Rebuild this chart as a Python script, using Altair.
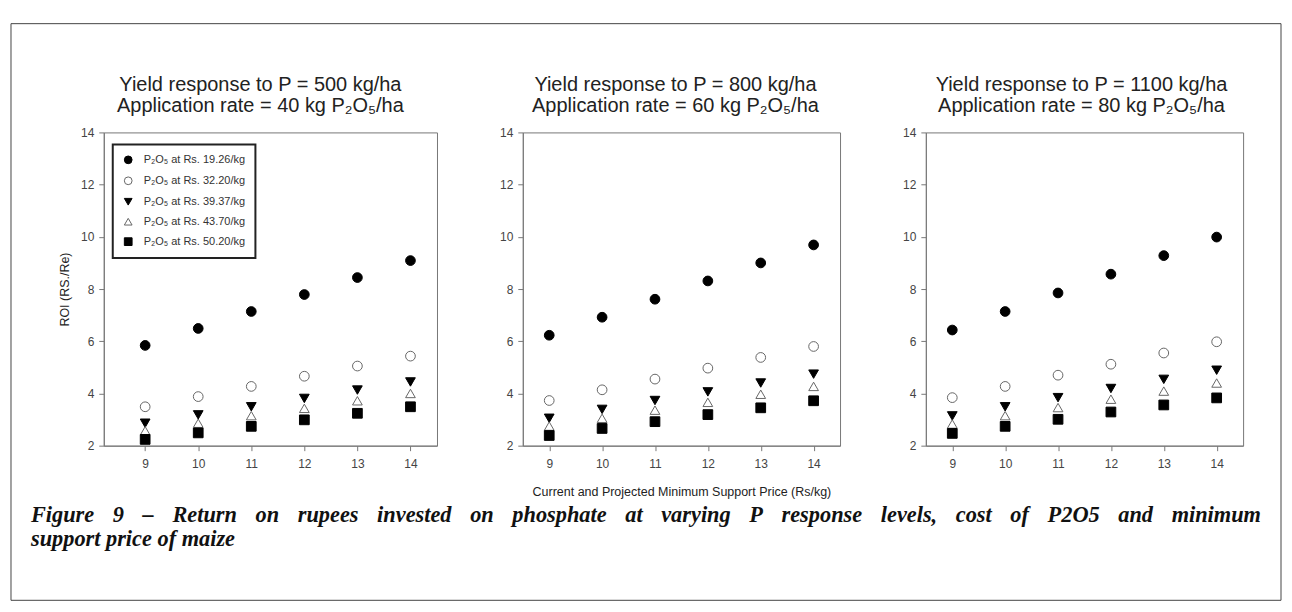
import altair as alt
import pandas as pd

# ---- data ----
msp = [9, 10, 11, 12, 13, 14]
series = [
    "P₂O₅ at Rs. 19.26/kg",
    "P₂O₅ at Rs. 32.20/kg",
    "P₂O₅ at Rs. 39.37/kg",
    "P₂O₅ at Rs. 43.70/kg",
    "P₂O₅ at Rs. 50.20/kg",
]

# Panel 1: yield response 500 kg/ha, 40 kg P2O5/ha
p500_r1926 = [5.84, 6.49, 7.14, 7.79, 8.44, 9.09]
p500_r3220 = [3.49, 3.88, 4.27, 4.66, 5.05, 5.43]
p500_r3937 = [2.86, 3.18, 3.49, 3.81, 4.13, 4.44]
p500_r4370 = [2.57, 2.86, 3.15, 3.43, 3.72, 4.00]
p500_r5020 = [2.24, 2.49, 2.74, 2.99, 3.24, 3.49]

# Panel 2: yield response 800 kg/ha, 60 kg P2O5/ha
p800_r1926 = [6.23, 6.92, 7.61, 8.31, 9.00, 9.69]
p800_r3220 = [3.73, 4.14, 4.55, 4.97, 5.38, 5.80]
p800_r3937 = [3.05, 3.39, 3.73, 4.06, 4.40, 4.74]
p800_r4370 = [2.75, 3.05, 3.36, 3.66, 3.97, 4.27]
p800_r5020 = [2.39, 2.66, 2.92, 3.19, 3.45, 3.72]

# Panel 3: yield response 1100 kg/ha, 80 kg P2O5/ha
p1100_r1926 = [6.43, 7.14, 7.85, 8.57, 9.28, 9.99]
p1100_r3220 = [3.84, 4.27, 4.70, 5.12, 5.55, 5.98]
p1100_r3937 = [3.14, 3.49, 3.84, 4.19, 4.54, 4.89]
p1100_r4370 = [2.83, 3.15, 3.46, 3.78, 4.09, 4.40]
p1100_r5020 = [2.47, 2.74, 3.01, 3.29, 3.56, 3.83]

panel_values = [
    [p500_r1926, p500_r3220, p500_r3937, p500_r4370, p500_r5020],
    [p800_r1926, p800_r3220, p800_r3937, p800_r4370, p800_r5020],
    [p1100_r1926, p1100_r3220, p1100_r3937, p1100_r4370, p1100_r5020],
]
panel_titles = [
    "Yield response to P = 500 kg/ha\nApplication rate = 40 kg P₂O₅/ha",
    "Yield response to P = 800 kg/ha\nApplication rate = 60 kg P₂O₅/ha",
    "Yield response to P = 1100 kg/ha\nApplication rate = 80 kg P₂O₅/ha",
]
x_title = "Current and Projected Minimum Support Price (Rs/kg)"
y_title = "ROI (RS./Re)"
y_ticks = [2, 4, 6, 8, 10, 12, 14]
x_domains = [[8.22, 14.5], [8.5, 14.5], [8.5, 14.5]]
caption_line1 = ("Figure 9 – Return on rupees invested on phosphate at varying P "
                 "response levels, cost of P2O5 and minimum")
caption_line2 = "support price of maize"

# ---- styles ----
shape_range = ["circle", "circle", "triangle-down", "triangle-up", "square"]
fill_range = ["#000000", "#ffffff", "#000000", "#ffffff", "#000000"]
stroke_range = ["#000000", "#666666", "#000000", "#666666", "#000000"]
FONT = "Liberation Sans"
PWS = [334, 318, 318]
PH = 314
TITLE_DX = [-10, -6, -3]
GAP = "\u2002\u00a0\u200a"   # wider word gap, imitating the justified caption line


def panel(i):
    pw = PWS[i]
    rows = []
    for s, vals in zip(series, panel_values[i]):
        for m, v in zip(msp, vals):
            rows.append({"series": s, "msp": m, "roi": v})
    df = pd.DataFrame(rows)

    if i == 0:
        leg = alt.Legend(
            title=None, orient="none", legendX=9, legendY=12,
            padding=10, rowPadding=8, symbolSize=60, symbolStrokeWidth=1,
            labelFontSize=11, labelFont=FONT, labelColor="#333",
            labelOffset=10, strokeColor="#222", fillColor="#ffffff",
        )
    else:
        leg = None

    pts = alt.Chart(df).mark_point(filled=True, size=95, strokeWidth=1, opacity=1).encode(
        x=alt.X("msp:Q",
                scale=alt.Scale(domain=x_domains[i], nice=False, zero=False),
                axis=alt.Axis(values=msp, title=x_title if i == 1 else None, format="d")),
        y=alt.Y("roi:Q",
                scale=alt.Scale(domain=[2, 14], nice=False, zero=False),
                axis=alt.Axis(values=y_ticks, title=y_title if i == 0 else None, format="d")),
        shape=alt.Shape("series:N", scale=alt.Scale(domain=series, range=shape_range), legend=leg),
        fill=alt.Fill("series:N", scale=alt.Scale(domain=series, range=fill_range), legend=leg),
        stroke=alt.Stroke("series:N", scale=alt.Scale(domain=series, range=stroke_range), legend=leg),
    )

    ttl = alt.Chart(pd.DataFrame({"t": [panel_titles[i]]})).mark_text(
        align="center", baseline="alphabetic", font=FONT, fontSize=20,
        lineBreak="\n", lineHeight=22, color="#222",
    ).encode(x=alt.value(pw / 2 + TITLE_DX[i]), y=alt.value(-42), text="t:N")

    layers = [pts, ttl]
    if i == 0:
        cap_text = GAP.join(caption_line1.split(" ")) + "\n" + caption_line2
        one = pd.DataFrame({"t": [cap_text]})
        frame = alt.Chart(one).mark_rect(fill="transparent", stroke="#444", strokeWidth=1).encode(
            x=alt.value(-93), x2=alt.value(1180), y=alt.value(-109), y2=alt.value(469)
        )
        cap = alt.Chart(one).mark_text(
            align="left", baseline="alphabetic", font="Liberation Serif",
            fontStyle="italic", fontWeight="bold", fontSize=22.4, lineBreak="\n",
            lineHeight=24, color="#111",
        ).encode(x=alt.value(-73), y=alt.value(391), text="t:N")
        layers = [frame, pts, ttl, cap]

    return alt.layer(*layers).properties(width=pw, height=PH)


chart = alt.hconcat(panel(0), panel(1), panel(2), spacing=86, bounds="flush").resolve_legend(
    shape="independent", fill="independent", stroke="independent"
).properties(
    padding={"left": 2, "top": 14, "right": 2, "bottom": 2},
    background="white",
).configure_view(
    stroke="#777", strokeWidth=1
).configure_axis(
    labelFont=FONT, labelFontSize=12, labelColor="#444",
    titleFont=FONT, titleFontSize=12.5, titleFontWeight="normal", titleColor="#222",
    domainColor="#777", tickColor="#777", tickSize=5, grid=False,
).configure_axisX(
    labelPadding=8, titlePadding=16,
).configure_axisY(
    labelPadding=5, titlePadding=9,
).configure_legend(
    strokeWidth=2,
)

chart.save("out.html", embed_options={"renderer": "svg", "actions": False})
